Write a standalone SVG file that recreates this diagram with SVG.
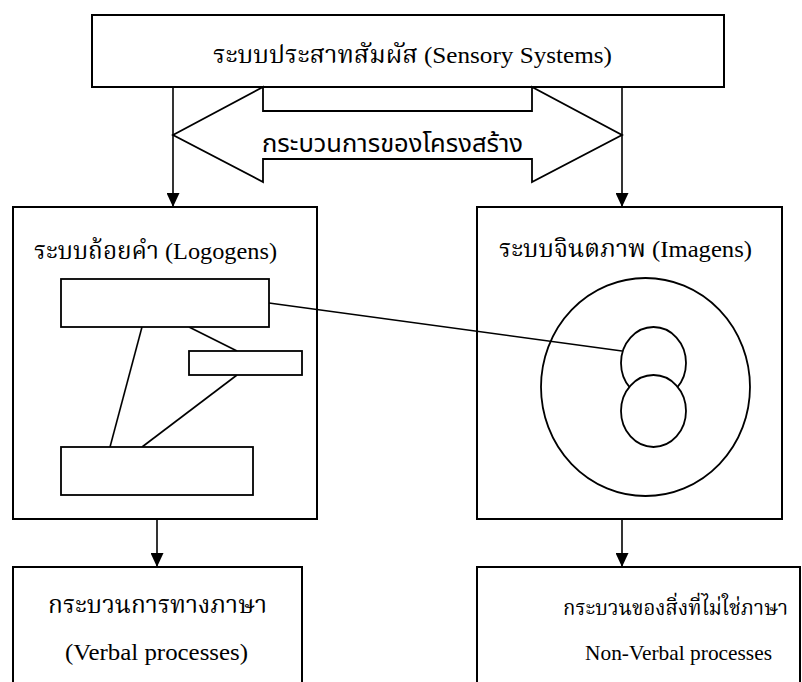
<svg xmlns="http://www.w3.org/2000/svg" width="802" height="682" viewBox="0 0 802 682">
  <style>
    .box { fill: #ffffff; stroke: #000000; stroke-width: 2; }
    .shape { fill: #ffffff; stroke: #000000; stroke-width: 1.8; }
    .ring { fill: none; stroke: #000000; stroke-width: 1.8; }
    .link { fill: none; stroke: #000000; stroke-width: 1.6; }
    .arrow { fill: none; stroke: #000000; stroke-width: 1.6; marker-end: url(#head); }
    .serif { font-family: "Liberation Serif", "Noto Serif Thai", "Noto Sans Thai", "DejaVu Serif", serif; font-size: 24px; fill: #000000; }
    .small { font-size: 21px; }
    .sans { font-family: "Noto Sans Thai", "Liberation Sans", "DejaVu Sans", sans-serif; font-size: 24px; fill: #000000; }
  </style>
  <defs>
    <marker id="head" markerUnits="userSpaceOnUse" markerWidth="14" markerHeight="13" refX="14" refY="6.5" orient="auto">
      <path d="M0,0 L14,6.5 L0,13 Z" fill="#000000"/>
    </marker>
  </defs>
  <rect width="802" height="682" fill="#ffffff"/>

  <g id="connectors">
    <line class="arrow" x1="173" y1="87" x2="173" y2="207"/>
    <line class="arrow" x1="622" y1="87" x2="622" y2="207"/>
    <line class="arrow" x1="157" y1="519" x2="157" y2="567"/>
    <line class="arrow" x1="622" y1="519" x2="622" y2="567"/>
  </g>

  <g id="sensory">
    <rect class="box" x="92" y="15" width="632" height="72"/>
    <text class="serif" x="213" y="63" textLength="399" lengthAdjust="spacingAndGlyphs">ระบบประสาทสัมผัส (Sensory Systems)</text>
  </g>

  <g id="structural-process">
    <path class="shape" d="M173,135 L263,87 L263,111 L532,111 L532,87 L622,135 L532,182 L532,159 L263,159 L263,182 Z"/>
    <text class="sans" x="262" y="152" textLength="261" lengthAdjust="spacingAndGlyphs">กระบวนการของโครงสร้าง</text>
  </g>

  <g id="logogens">
    <rect class="box" x="13" y="207" width="304" height="312"/>
    <text class="serif" x="34" y="259" textLength="243" lengthAdjust="spacingAndGlyphs">ระบบถ้อยคำ (Logogens)</text>
    <line class="link" x1="142" y1="327" x2="110" y2="447"/>
    <line class="link" x1="189" y1="327" x2="237" y2="351"/>
    <line class="link" x1="237" y1="375" x2="142" y2="447"/>
    <rect class="shape" x="61" y="279" width="208" height="48"/>
    <rect class="shape" x="189" y="351" width="113" height="24"/>
    <rect class="shape" x="61" y="447" width="192" height="48"/>
  </g>

  <g id="imagens">
    <rect class="box" x="477" y="207" width="305" height="312"/>
    <text class="serif" x="499" y="257" textLength="253" lengthAdjust="spacingAndGlyphs">ระบบจินตภาพ (Imagens)</text>
    <ellipse class="ring" cx="645.5" cy="387" rx="104.5" ry="109"/>
    <ellipse class="shape" cx="653.5" cy="363" rx="32.5" ry="36"/>
    <ellipse class="shape" cx="653.5" cy="411" rx="32.5" ry="36"/>
  </g>

  <g id="cross-link">
    <line class="link" x1="269" y1="303" x2="622" y2="351"/>
  </g>

  <g id="verbal">
    <rect class="box" x="13" y="567" width="289" height="130"/>
    <text class="serif" x="48" y="613" textLength="219" lengthAdjust="spacingAndGlyphs">กระบวนการทางภาษา</text>
    <text class="serif" x="65" y="660" textLength="183" lengthAdjust="spacingAndGlyphs">(Verbal processes)</text>
  </g>

  <g id="nonverbal">
    <rect class="box" x="477" y="567" width="323" height="130"/>
    <text class="serif small" x="563" y="615" textLength="225" lengthAdjust="spacingAndGlyphs">กระบวนของสิ่งที่ไม่ใช่ภาษา</text>
    <text class="serif small" x="585" y="660" textLength="187" lengthAdjust="spacingAndGlyphs">Non-Verbal processes</text>
  </g>
</svg>
